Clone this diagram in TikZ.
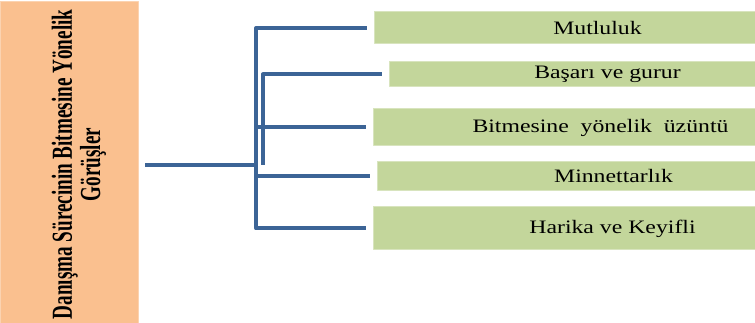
\documentclass[tikz,border=0pt]{standalone}
\usepackage{fontspec}
\setmainfont{Liberation Serif}
\definecolor{panelfill}{HTML}{FAC08F}
\definecolor{boxfill}{HTML}{C3D69B}
\definecolor{boxline}{HTML}{D8E4BE}
\definecolor{linkblue}{RGB}{60,100,150}
\begin{document}
\begin{tikzpicture}[x=1pt,y=-1pt,line join=round,
    panel/.style={fill=panelfill,draw=panelfill!70!white,inner sep=0pt,
      minimum width=138pt,minimum height=322pt},
    title/.style={rotate=90,inner sep=0pt,font=\bfseries\fontsize{29}{27}\selectfont},
    choice/.style={fill=boxfill,draw=boxline,line width=1pt,inner sep=0pt,anchor=west,
      font=\fontsize{19}{22}\selectfont},
    link/.style={draw=linkblue,line width=4pt}]
    \clip (0,0) rectangle (755,323);
    \node[panel] (panel) at (69,162) {};
    \node[title] (root) at (80,164.5) {\scalebox{0.66}[1]{\begin{tabular}{@{}c@{}}Danışma Sürecinin Bitmesine Yönelik\\Görüşler\end{tabular}}};
    % answer boxes (right ends run past the page)
    \foreach \n/\l/\yc/\h/\w/\t in {m1/374/28/32/446/Mutluluk,
        m2/389/74.5/25/436/Başarı ve gurur,
        m3/373/127.5/37/454/Bitmesine\ \ yönelik\ \ üzüntü,
        m4/377/176.5/29/472/Minnettarlık,
        m5/373/228.5/43/478/Harika ve Keyifli}
    \node[choice,minimum width=\w pt,minimum height=\h pt] (\n) at (\l,\yc) {\scalebox{1.25}[1]{\t}};
    \coordinate (start) at (145,165);
    \coordinate (hub) at (256,165);
    \draw[link] (start) -- (hub);
    \foreach \n in {m1,m3,m4,m5}
    \draw[link,shorten >=7pt] (hub) |- (\n.west);
    \draw[link,shorten >=7pt] ([xshift=7pt]hub) |- (m2.west);
\end{tikzpicture}
\end{document}
